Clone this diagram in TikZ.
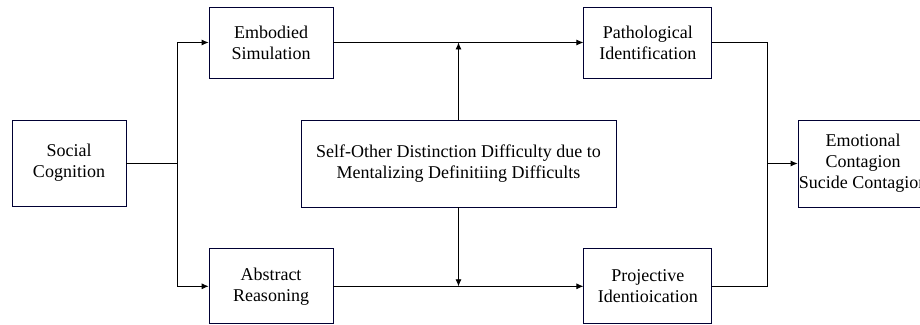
\documentclass[tikz,border=0pt]{standalone}
\usepackage{fontspec}
\setmainfont{Liberation Serif}
\usetikzlibrary{arrows.meta,positioning}

\begin{document}
\begin{tikzpicture}[
    x = 1pt, y = 1pt,
    > = {Latex[length=7pt,width=6pt]}, % arrow head style
    line width = 0.8pt, % line style
    font = \fontsize{18}{21}\selectfont
    ]

    \tikzset{block/.style={
    draw = black!80!blue,
    fill = white,
    align = center,
    inner sep = 0pt
    }}
    \useasboundingbox (0,0) rectangle (920,324);
    \clip (0,0) rectangle (920,324);
    \fill[white] (0,0) rectangle (920,324);

    \node[block, minimum width=114, minimum height=86] (soc) at (69,161) {Social\\Cognition};
    \node[block, minimum width=124, minimum height=71] (emb) at (271,281.5) {Embodied\\Simulation};
    \node[block, minimum width=124, minimum height=75] (abs) [below=170 of emb] {Abstract\\Reasoning};
    \node[block, minimum width=128, minimum height=71] (pat) [right=250 of emb] {Pathological\\Identification};
    \node[block, minimum width=128, minimum height=75] (pro) [right=250 of abs] {Projective\\Identioication};
    \node[block, minimum width=315, minimum height=87] (sod) at (458.5,160.5) {Self-Other Distinction Difficulty due to\\Mentalizing Definitiing Difficults};
    \node[block, minimum width=130, minimum height=87] (emo) at (863,160.5) {Emotional\\Contagion\\Sucide Contagion};

    \coordinate (split) at (177,161);
    \coordinate (merge) at (767,160.5);

    \draw (soc.east) -- (split);
    \draw[->] (split) |- (emb.west);
    \draw[->] (split) |- (abs.west);
    \draw[->] (emb.east) -- (pat.west);
    \draw[->] (abs.east) -- (pro.west);
    \draw[->] (sod.north) -- (sod.north |- emb.east);
    \draw[->] (sod.south) -- (sod.south |- abs.east);
    \draw (pat.east) -| (merge);
    \draw (pro.east) -| (merge);
    \draw[->] (merge) -- (emo.west);
\end{tikzpicture}
\end{document}
